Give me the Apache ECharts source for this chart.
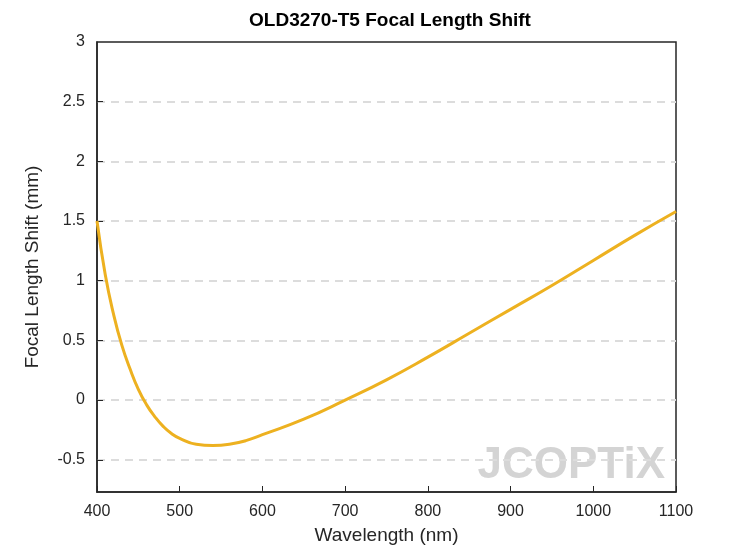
<!DOCTYPE html>
<html><head><meta charset="utf-8">
<script src="https://cdn.jsdelivr.net/npm/echarts@6/dist/echarts.min.js"></script>
<style>html,body{margin:0;padding:0;background:#fff}#c{width:747px;height:560px}</style>
</head><body><div id="c"></div>
<script>
const wavelengths = [400,410,420,430,440,450,460,470,480,490,500,520,540,560,580,600,650,700,750,800,850,900,950,1000,1050,1100];
const shifts = [1.5,1.05,0.72,0.46,0.26,0.09,-0.04,-0.14,-0.22,-0.28,-0.32,-0.37,-0.38,-0.37,-0.34,-0.29,-0.16,0.0,0.17,0.36,0.56,0.76,0.96,1.17,1.38,1.58];
const yTicks = [-0.5,0,0.5,1,1.5,2,2.5];
const yLabels = [-0.5,0,0.5,1,1.5,2,2.5,3];
const chart = echarts.init(document.getElementById('c'));
const ax = {color:'#262626', fontSize:16, fontFamily:'Liberation Sans, Arial'};
chart.setOption({
  animation:false,
  title:{text:'OLD3270-T5 Focal Length Shift', left:385, top:6, textAlign:'center',
    textStyle:{fontSize:19, fontWeight:'bold', color:'#000', fontFamily:'Liberation Sans, Arial'}},
  grid:{left:97, right:71, top:42, bottom:68, show:true, borderColor:'#262626', borderWidth:1.5},
  graphic:[{type:'text', right:82, bottom:72, style:{text:'JCOPTiX', fontSize:44, fontWeight:'bold',
    fill:'rgba(160,160,160,0.45)', fontFamily:'Liberation Sans, Arial'}}],
  xAxis:{type:'value', min:400, max:1100, interval:100, name:'Wavelength (nm)', nameLocation:'middle', nameGap:34,
    nameTextStyle:{...ax, fontSize:19}, axisLabel:{...ax, margin:12, formatter:v=>String(v)},
    axisLine:{onZero:false, lineStyle:{color:'#262626', width:1.5}}, axisTick:{inside:true, length:6, lineStyle:{color:'#262626'}}, splitLine:{show:false}},
  yAxis:{type:'value', min:-0.77, max:3, name:'Focal Length Shift (mm)', nameLocation:'middle', nameGap:55,
    nameTextStyle:{...ax, fontSize:19},
    axisLabel:{...ax, margin:12, customValues:yLabels, formatter:v=>String(v)},
    axisLine:{show:true, lineStyle:{color:'#262626', width:1.5}},
    axisTick:{inside:true, length:6, customValues:yTicks, lineStyle:{color:'#262626'}},
    splitLine:{show:true, lineStyle:{type:[8,6], color:'#dcdcdc', width:2}}},
  series:[{type:'line', smooth:true, symbol:'none', data:wavelengths.map((w,i)=>[w,shifts[i]]),
    lineStyle:{color:'#EDB120', width:3}}]
});
</script></body></html>
